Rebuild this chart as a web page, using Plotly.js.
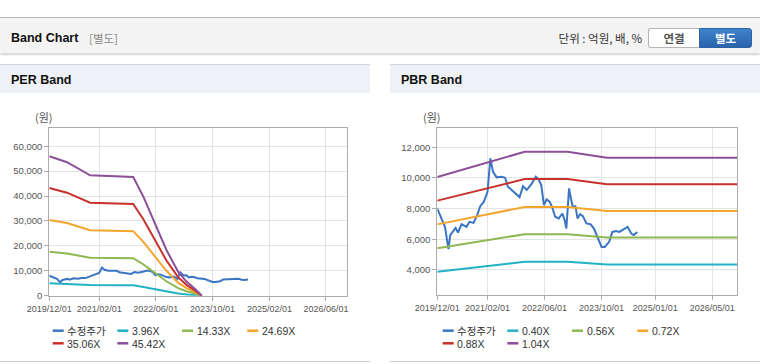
<!DOCTYPE html>
<html>
<head>
<meta charset="utf-8">
<script src="https://cdn.plot.ly/plotly-3.0.1.min.js"></script>
<style>
  html, body { margin:0; padding:0; background:#ffffff; }
  body { width:760px; height:364px; position:relative; overflow:hidden;
         font-family:"Liberation Sans","Noto Sans CJK KR",Arial,sans-serif; }
  .abs { position:absolute; white-space:nowrap; }
  #topbar { left:0; top:17px; width:760px; height:35px; background:#f4f4f4;
            border-top:1px solid #b9b9b9; box-shadow:0 2px 2px rgba(0,0,0,0.16); }
  .ttl { font-weight:bold; font-size:12.5px; color:#111; line-height:16px; }
  .sub { font-size:11.5px; color:#8a8a8a; line-height:16px; font-family:"Noto Sans CJK KR","Liberation Sans",sans-serif; }
  .unit { font-size:11.5px; color:#333; line-height:16px; font-family:"Noto Sans CJK KR","Liberation Sans",sans-serif; }
  .btn { top:28px; height:18px; line-height:18px; font-size:11.5px; font-weight:bold; text-align:center;
         font-family:"Noto Sans CJK KR","Liberation Sans",sans-serif; }
  #b1 { left:648px; width:50px; background:#fff; color:#555; border:1px solid #b5b5b5; border-right:none; border-radius:3px 0 0 3px; }
  #b2 { left:699px; width:51px; background:linear-gradient(#3f82cc,#2a65aa); color:#fff; border:1px solid #2a62a5; border-radius:0 3px 3px 0; }
  .phead { top:64px; height:28px; width:370px; background:#eef2f7; border-top:1px solid #d4d6da; }
  .pbot { top:361px; height:0; width:370px; border-top:1px solid #cfcfcf; }
  #chart { position:absolute; left:0; top:0; width:760px; height:364px; }
</style>
</head>
<body>
<div id="topbar" class="abs"></div>
<span class="abs ttl" style="left:11px; top:30px;">Band Chart</span>
<span class="abs sub" style="left:89px; top:30px;">[별도]</span>
<span class="abs unit" style="right:118px; top:30px;">단위 : 억원, 배, %</span>
<div id="b1" class="abs btn">연결</div>
<div id="b2" class="abs btn">별도</div>

<div class="abs phead" style="left:0;"></div>
<div class="abs phead" style="left:390px;"></div>
<span class="abs ttl" style="left:11px; top:72px;">PER Band</span>
<span class="abs ttl" style="left:401px; top:72px;">PBR Band</span>
<div class="abs pbot" style="left:0;"></div>
<div class="abs pbot" style="left:390px;"></div>

<div id="chart"></div>

<script>
// ---------- data ----------
const priceDates = ['2019-12-01','2020-01-05','2020-02-05','2020-03-05','2020-03-20','2020-04-10','2020-05-05','2020-05-25',
  '2020-06-25','2020-08-05','2020-09-01','2020-10-05','2020-11-05','2020-12-01','2021-01-01','2021-02-01','2021-02-25',
  '2021-03-20','2021-04-20','2021-06-01','2021-07-01','2021-07-25','2021-09-01','2021-10-01','2021-11-01','2021-12-01',
  '2022-01-01','2022-02-10','2022-03-20','2022-04-15','2022-05-05','2022-05-28','2022-06-20','2022-07-15','2022-08-05',
  '2022-09-01','2022-10-01','2022-11-01','2022-11-20','2022-12-05','2022-12-18','2022-12-28','2023-01-10','2023-01-28',
  '2023-02-20','2023-03-10','2023-04-01','2023-04-25','2023-05-25','2023-07-01','2023-07-28','2023-09-01','2023-10-01',
  '2023-10-28','2023-12-05','2024-01-01','2024-02-01','2024-03-01','2024-04-10','2024-05-10','2024-06-10','2024-07-01','2024-08-01'];
const priceValues = [8000,7350,6800,5350,6270,6480,6740,6440,
  6980,6810,7140,7070,7570,8160,8450,9100,11280,
  10400,10040,10080,10010,9430,9170,8950,8750,9470,
  9210,9600,10080,9860,9540,8230,8600,8450,8120,
  7470,7360,7680,7250,6700,8340,9320,8770,8120,
  8160,7360,7640,7510,7030,6970,6700,6050,5500,
  5500,5830,6480,6530,6480,6640,6810,6370,6270,6480];

// PER bands
const perDates = ['2019-12-01','2020-05-01','2020-11-15','2021-08-01','2021-11-20','2022-02-15','2022-05-25',
  '2022-09-01','2022-12-10','2023-02-20','2023-05-05','2023-07-01'];
const per396  = [5000,4750,4250,4200,4150,3450,2550,1600,850,500,240,0];
const per1433 = [17650,16900,15250,15150,15050,12550,9200,5800,3050,1800,850,0];
const per2469 = [30400,29150,26300,26100,25900,21600,15800,10000,5250,3050,1450,0];
const per3506 = [43200,41350,37350,37100,36800,30700,22450,14150,7450,4350,2050,0];
const per4542 = [55950,53600,48350,48050,47700,39750,29050,18350,9650,5650,2700,0];

// PBR bands
const pbrDates = ['2019-12-01','2020-06-01','2020-12-01','2021-06-01','2021-12-15','2022-12-15','2023-06-01',
  '2023-10-01','2023-11-15','2026-12-01'];
const pbr040 = [3880,4030,4180,4340,4530,4530,4450,4400,4360,4360];
const pbr056 = [5420,5640,5850,6070,6330,6330,6220,6150,6120,6120];
const pbr072 = [6970,7250,7530,7800,8110,8110,7980,7890,7840,7840];
const pbr088 = [8520,8860,9200,9540,9930,9930,9760,9640,9590,9590];
const pbr104 = [10060,10470,10870,11270,11710,11710,11530,11390,11320,11320];

const perNames = ['수정주가','3.96X','14.33X','24.69X','35.06X','45.42X'];
const pbrNames = ['수정주가','0.40X','0.56X','0.72X','0.88X','1.04X'];
const seriesColors = ['#3a75c4','#22b2c4','#8fb852','#f4a52c','#c9302c','#8c4f99'];

const perTicks = ['2019-12-01','2021-02-01','2022-06-01','2023-10-01','2025-02-01','2026-06-01'];
const pbrTicks = ['2019-12-01','2021-02-01','2022-06-01','2023-10-01','2025-01-01','2026-05-01'];
const perYTicks = [0,10000,20000,30000,40000,50000,60000];
const pbrYTicks = [4000,6000,8000,10000,12000];

// ---------- figure ----------
const W = 760, H = 364;
const px = v => v / W;
const py = v => 1 - v / H;

const perSeries = [[priceDates, priceValues],[perDates, per396],[perDates, per1433],[perDates, per2469],[perDates, per3506],[perDates, per4542]];
const pbrSeries = [[priceDates, priceValues],[pbrDates, pbr040],[pbrDates, pbr056],[pbrDates, pbr072],[pbrDates, pbr088],[pbrDates, pbr104]];

const traces = [];
perSeries.forEach((s, i) => traces.push({
  x: s[0], y: s[1], name: perNames[i], type: 'scatter', mode: 'lines', xaxis: 'x', yaxis: 'y',
  line: {color: seriesColors[i], width: 2}, showlegend: false, hoverinfo: 'skip'
}));
pbrSeries.forEach((s, i) => traces.push({
  x: s[0], y: s[1], name: pbrNames[i], type: 'scatter', mode: 'lines', xaxis: 'x2', yaxis: 'y2',
  line: {color: seriesColors[i], width: 2}, showlegend: false, hoverinfo: 'skip'
}));

const tickFontX = {family: '"Liberation Sans", Arial, sans-serif', size: 9, color: '#555'};
const tickFontY = {family: '"Liberation Sans", Arial, sans-serif', size: 9.5, color: '#555'};

function xAxis(domain, ticks, anchor) {
  return {
    type: 'date', domain: domain, anchor: anchor, range: ['2019-12-01', '2026-12-01'],
    tickmode: 'array', tickvals: ticks, tickformat: '%Y/%m/%d', tickfont: tickFontX,
    showgrid: true, gridcolor: '#e4e4e4', gridwidth: 1, zeroline: false,
    showline: true, mirror: true, linecolor: '#ababab', linewidth: 1,
    ticks: 'outside', ticklen: 4, tickcolor: '#ababab', fixedrange: true
  };
}
function yAxis(domain, ticks, range, anchor) {
  return {
    domain: domain, anchor: anchor, range: range,
    tickmode: 'array', tickvals: ticks, tickformat: ',d', tickfont: tickFontY,
    showgrid: true, gridcolor: '#e4e4e4', gridwidth: 1, zeroline: false,
    showline: true, mirror: true, linecolor: '#ababab', linewidth: 1,
    ticks: 'outside', ticklen: 4, tickcolor: '#ababab', fixedrange: true
  };
}

const shapes = [];
const annotations = [];

function addLegend(names, baseX) {
  const colX = [52.7, 117.3, 182, 247.2];
  const rowY = [330.7, 343.3];
  names.forEach((n, i) => {
    const cx = baseX + colX[i % 4];
    const cy = rowY[Math.floor(i / 4)];
    shapes.push({type: 'line', xref: 'paper', yref: 'paper', x0: px(cx), x1: px(cx + 11),
      y0: py(cy), y1: py(cy), line: {color: seriesColors[i], width: 2.5}});
    annotations.push({xref: 'paper', yref: 'paper', x: px(cx + 12.5), y: py(cy + 0.5),
      xanchor: 'left', yanchor: 'middle', text: n, showarrow: false,
      font: {family: '"Liberation Sans", "Noto Sans CJK KR", sans-serif', size: 10.5, color: '#333'}});
  });
}
addLegend(perNames, 0);
addLegend(pbrNames, 390);

annotations.push({xref: 'paper', yref: 'paper', x: px(44), y: py(117), xanchor: 'center', yanchor: 'middle',
  text: '(원)', showarrow: false, font: {family: '"Noto Sans CJK KR", sans-serif', size: 11, color: '#555'}});
annotations.push({xref: 'paper', yref: 'paper', x: px(432), y: py(117), xanchor: 'center', yanchor: 'middle',
  text: '(원)', showarrow: false, font: {family: '"Noto Sans CJK KR", sans-serif', size: 11, color: '#555'}});

const layout = {
  width: W, height: H, margin: {l: 0, r: 0, t: 0, b: 0},
  paper_bgcolor: 'rgba(0,0,0,0)', plot_bgcolor: '#ffffff',
  showlegend: false,
  xaxis: xAxis([px(49.3), px(347.3)], perTicks, 'y'),
  yaxis: yAxis([py(295.7), py(128.3)], perYTicks, [0, 67200], 'x'),
  xaxis2: xAxis([px(437.3), px(737.3)], pbrTicks, 'y2'),
  yaxis2: yAxis([py(295.2), py(128.3)], pbrYTicks, [2350, 13240], 'x2'),
  shapes: shapes, annotations: annotations
};

Plotly.newPlot('chart', traces, layout, {displayModeBar: false, staticPlot: true});
</script>
</body>
</html>
